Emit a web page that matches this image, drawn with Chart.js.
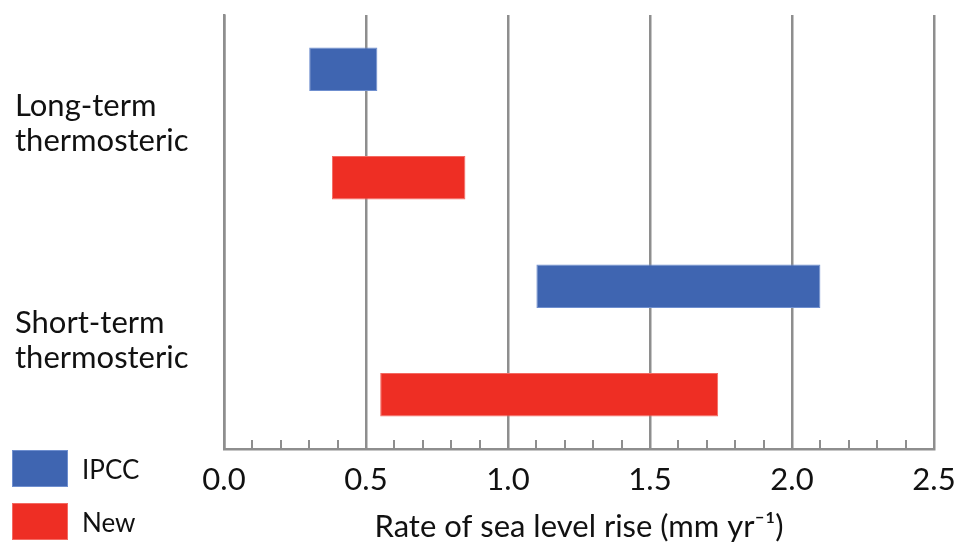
<!DOCTYPE html>
<html>
<head>
<meta charset="utf-8">
<script src="https://cdn.jsdelivr.net/npm/chart.js@4/dist/chart.umd.min.js"></script>
<style>
  html, body { margin: 0; padding: 0; background: #fff; }
  #wrap { position: relative; width: 957px; height: 546px; }
  canvas { display: block; }
  .leg { position: absolute; left: 12px; display: flex; align-items: center; font-family: Lato, "Liberation Sans", sans-serif; font-size: 26px; color: #111; }
  .leg span.box { display: inline-block; width: 56px; height: 37px; margin-right: 14px; box-sizing: border-box; }
</style>
</head>
<body>
<div id="wrap">
  <canvas id="c" width="957" height="546"></canvas>
  <div class="leg" style="top:450px;"><span class="box" style="background:#3F65B1;border:1px solid #6f8fcf;"></span>IPCC</div>
  <div class="leg" style="top:503px;"><span class="box" style="background:#EE2E24;border:1px solid #f46a62;"></span>New</div>
</div>
<script>
const categories = [["Long-term", "thermosteric"], ["Short-term", "thermosteric"]];
const ipccRanges = [[0.30, 0.54], [1.10, 2.10]];
const newRanges = [[0.38, 0.85], [0.55, 1.74]];
const xMin = 0, xMax = 2.5, majorStep = 0.5, minorStep = 0.1;
const xTitle = "Rate of sea level rise (mm yr\u207B\u00B9)";

const FONT = "Lato, 'Liberation Sans', sans-serif";
const GRID = "#8e8e8e";

const minorTicks = {
  id: "minorTicks",
  afterDatasetsDraw(chart) {
    const x = chart.scales.x, ctx = chart.ctx;
    const bottom = chart.chartArea.bottom;
    ctx.save();
    ctx.strokeStyle = GRID;
    ctx.lineWidth = 2;
    const n = Math.round((xMax - xMin) / minorStep);
    for (let i = 1; i < n; i++) {
      const v = xMin + i * minorStep;
      if (Math.abs(v / majorStep - Math.round(v / majorStep)) < 1e-6) continue;
      const px = Math.round(x.getPixelForValue(v));
      ctx.beginPath();
      ctx.moveTo(px, bottom);
      ctx.lineTo(px, bottom - 9);
      ctx.stroke();
    }
    ctx.restore();
  }
};

new Chart(document.getElementById("c"), {
  type: "bar",
  data: {
    labels: categories,
    datasets: [
      { label: "IPCC", data: ipccRanges, backgroundColor: "#3F65B1", borderColor: "#6f8fcf", borderWidth: 1, borderSkipped: false },
      { label: "New", data: newRanges, backgroundColor: "#EE2E24", borderColor: "#f46a62", borderWidth: 1, borderSkipped: false }
    ]
  },
  options: {
    indexAxis: "y",
    responsive: false,
    animation: false,
    devicePixelRatio: 1,
    categoryPercentage: 1.0,
    barPercentage: 0.4,
    layout: { padding: { top: 15, right: 23, left: 15, bottom: 0 } },
    plugins: { legend: { display: false }, tooltip: { enabled: false } },
    scales: {
      x: {
        type: "linear",
        min: xMin, max: xMax,
        ticks: { stepSize: majorStep, color: "#111", font: { family: FONT, size: 31 }, padding: 12,
                 callback: v => Number(v).toFixed(1) },
        grid: { color: GRID, lineWidth: 2.5, drawTicks: false },
        border: { color: GRID, width: 2.5 },
        title: { display: true, text: xTitle, color: "#111", font: { family: FONT, size: 31 }, padding: { top: 2, bottom: 0 } },
        afterFit(s) { s.height = 97; s.paddingLeft = 0; s.paddingRight = 0; }
      },
      y: {
        ticks: { color: "#111", font: { family: FONT, size: 31, lineHeight: 1.1 }, crossAlign: "far", padding: 0 },
        grid: { display: false, drawTicks: false },
        border: { color: GRID, width: 2.5 },
        afterFit(s) { s.width = 224 - 15; s.paddingTop = 0; s.paddingBottom = 0; }
      }
    }
  },
  plugins: [minorTicks]
});
</script>
</body>
</html>
